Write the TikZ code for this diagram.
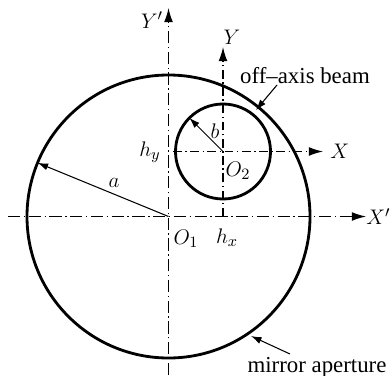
\documentclass[tikz,border=0pt]{standalone}
\usepackage{fontspec}
\setmainfont{Liberation Serif}
\usetikzlibrary{arrows.meta,calc}

\begin{document}
\begin{tikzpicture}[
      x=0.02cm, y=-0.02cm,
      every node/.style={font=\fontsize{13}{15}\selectfont, inner sep=1pt},
      aperture/.style={line width=1.6pt},
      axisp/.style={line width=0.7pt, dash pattern=on 7pt off 2pt on 0.8pt off 2pt, -{Latex[length=8pt,width=5pt]}},
      axisb/.style={line width=0.7pt, dash pattern=on 5pt off 2pt on 0.8pt off 2pt, -{Latex[length=8pt,width=5pt]}},
      radiusarrow/.style={line width=0.6pt, -{Latex[length=6pt,width=4pt]}},
      pointer/.style={line width=0.6pt, -{Latex[length=6pt,width=4pt]}},
    ]
    \useasboundingbox (0,0) rectangle (391,375);

    % Centres
    \coordinate (o1) at (168.5,216.5);
    \coordinate (o2) at (223,151.5);

    % Mirror aperture and off-axis beam
    \draw[aperture] (o1) circle[radius=141.5];
    \draw[aperture] (o2) circle[radius=47.5];

    % Axes
    \coordinate (xpstart) at (8,216.5);
    \coordinate (xpend) at (366,216.5);
    \coordinate (ypstart) at (168.5,375);
    \coordinate (ypend) at (168.5,8);
    \coordinate (xstart) at (173,151.5);
    \coordinate (xend) at (323,151.5);
    \coordinate (ystart) at (223,216.5);
    \coordinate (yend) at (223,47);
    \draw[axisp] (xpstart) -- (xpend);
    \draw[axisp] (ypstart) -- (ypend);
    \draw[axisb] (xstart) -- (xend);
    \draw[axisb] (ystart) -- (yend);

    \node[anchor=west, inner sep=0pt] (xplabel) at (xpend) {$X'$};
    \node[left=2pt, yshift=-7pt] (yplabel) at (ypend) {$Y'$};
    \node[right=3pt] (xlabel) at (xend) {$X$};
    \node[above=0pt, xshift=5pt] (ylabel) at (yend) {$Y$};

    % Radii
    \draw[radiusarrow] (o1) -- ($(o1)+(157.7:141.5 and -141.5)$);
    \draw[radiusarrow] (o2) -- ($(o2)+(135:47.5 and -47.5)$);
    \node (alabel) at (114,183) {$a$};
    \node (blabel) at (215,131) {$b$};

    % Offsets and origins
    \node (hy) at (150,152) {$h_y$};
    \node (hx) at (227,238) {$h_x$};
    \node (o1label) at (186,239) {$O_1$};
    \node (o2label) at (238,171) {$O_2$};

    % Annotation
    \node (beam) at (305,76) {off–axis beam};
    \node (mirror) at (317,367) {mirror aperture};
    \coordinate (beamtail) at (277,85);
    \coordinate (beamtip) at (256,110);
    \coordinate (mirrortail) at (290,354);
    \coordinate (mirrortip) at (251,336);
    \draw[pointer] (beamtail) -- (beamtip);
    \draw[pointer] (mirrortail) -- (mirrortip);
  \end{tikzpicture}
\end{document}
